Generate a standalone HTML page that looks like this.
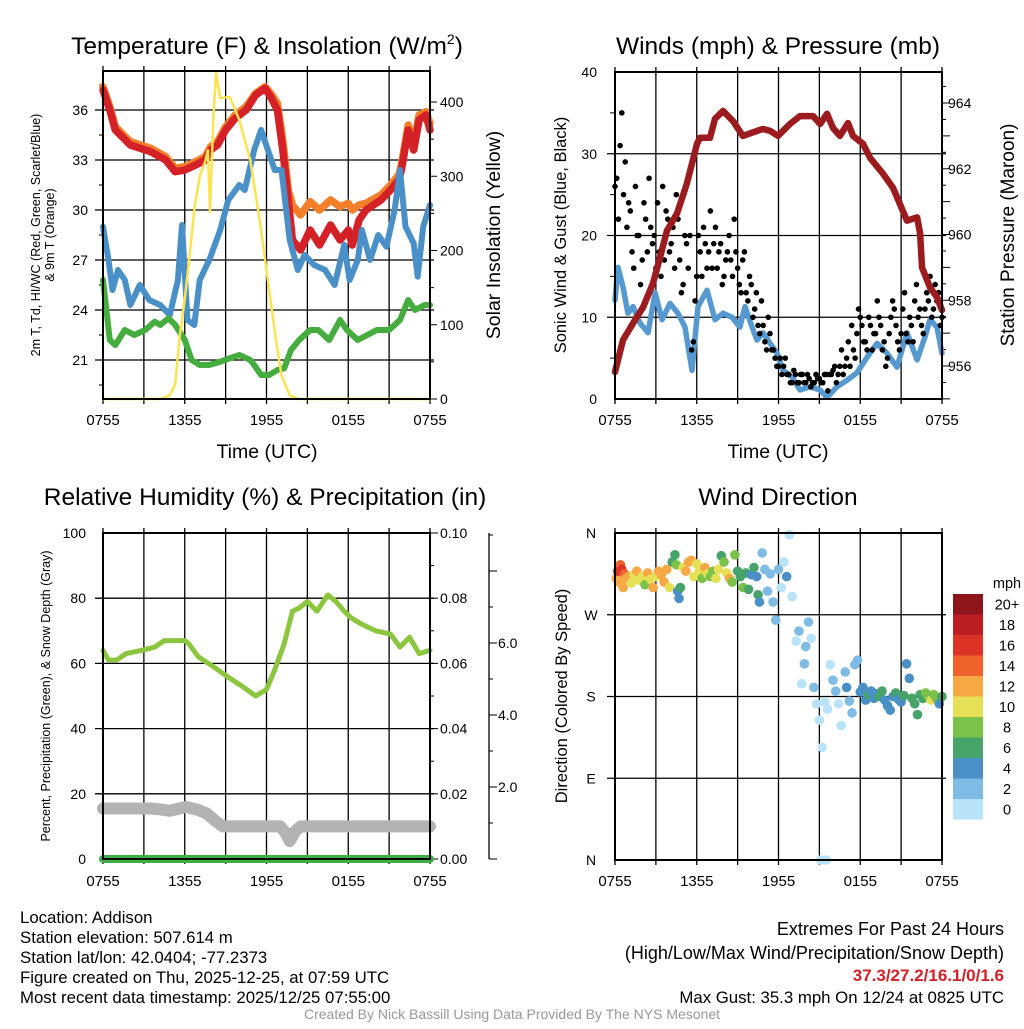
<!DOCTYPE html>
<html><head><meta charset="utf-8"><style>
body{margin:0;background:#fff}
svg text{font-family:"Liberation Sans",sans-serif;fill:#000}
</style></head><body>
<svg id="s" width="1024" height="1024" viewBox="0 0 1024 1024" xmlns="http://www.w3.org/2000/svg">
<rect width="1024" height="1024" fill="#fff"/>
</svg>
<script>
// ---------- DATA ----------
const xTickLabels=["0755","1355","1955","0155","0755"];
const tempTicks=[21,24,27,30,33,36];
const solarTicks=[0,100,200,300,400];
const windTicks=[0,10,20,30,40];
const presTicks=[956,958,960,962,964];
const rhTicks=[0,20,40,60,80,100];
const precipTicks=["0.00","0.02","0.04","0.06","0.08","0.10"];
const snowTicks=["2.0","4.0","6.0"];
const dirLabels=["N","W","S","E","N"];
const cbLabels=["20+","18","16","14","12","10","8","6","4","2","0"];
const cbColors=["#8e1519","#bb1d23","#dc3327","#f0622b","#f6a844","#e6e057","#7bc24a","#46a36a","#4a8fc6","#7ebce6","#b8e3f8"];

const redH=[0,0.5,0.9,2,3.5,4.6,5.3,6,6.8,7.5,7.9,8.4,9,9.7,10.5,11.2,11.9,12.3,12.8,13.2,13.6,13.9,14.5,15.2,15.9,16.7,17.4,18,18.3,18.8,19.3,20.4,21.1,21.7,21.9,22.4,22.8,23.2,23.7,24];
const redT=[37.2,36,34.8,33.9,33.5,33,32.3,32.4,32.7,33,33.6,33.9,34.8,35.5,36,36.9,37.3,36.8,36,33.6,30.6,28.2,27.6,28.8,27.9,29.1,28.2,28.8,27.9,29.4,30,30.6,31.2,31.8,32.4,34.8,33.6,35.4,35.7,34.8];
const orangeT=[37.4,36.2,35,34.1,33.7,33.2,32.5,32.6,32.9,33.2,33.8,34.1,35,35.7,36.2,37,37.4,37,36.4,34.2,31.2,30.3,29.7,30.5,30,30.6,30.2,30.4,30,30.3,30.4,30.9,31.5,32.1,32.7,35.1,34,35.7,35.9,35.2];
const blueH=[0,0.4,0.7,1.1,1.6,2,2.7,3.4,4.2,4.9,5.5,5.8,6.2,6.7,7.1,7.8,8.6,9.2,10,10.4,11.1,11.6,12.1,12.6,13.1,13.7,14.3,14.8,15.5,16.3,17,17.7,18.1,18.7,19,19.6,20.2,20.8,21.4,21.8,22.2,22.8,23.1,23.5,24];
const blueT=[29.0,27,25.2,26.4,25.8,24.3,25.5,24.6,24.3,23.7,25.8,29.1,23.4,23.1,25.8,27,28.8,30.6,31.5,31.2,33.6,34.8,33.6,32.4,32.4,28.2,26.4,27.3,26.7,26.4,25.5,27.9,25.8,27,28.8,27,28.5,27.8,30,32.4,29,28,26,29,30.3];
const greenH=[0,0.5,0.9,1.6,2.3,3.1,3.8,4.2,4.8,5.3,6,6.5,7.1,7.8,8.6,9.3,10,10.8,11.1,11.6,12.2,12.8,13.3,13.8,14.4,15.2,15.8,16.6,17.4,17.9,18.7,19.4,20.1,21,21.8,22.4,22.9,23.6,24];
const greenT=[25.8,22.2,21.9,22.8,22.5,22.8,23.3,23.1,23.5,23.1,22.2,21,20.7,20.7,20.9,21.1,21.3,21,20.7,20.1,20.1,20.4,20.5,21.6,22.2,22.8,22.8,22.2,23.4,22.8,22.2,22.5,22.8,22.8,23.4,24.6,24,24.3,24.3];
const solarH=[0,4.2,4.9,5.3,5.6,6,6.4,6.7,7.1,7.5,7.7,7.85,8.1,8.3,8.6,9.3,10,10.8,11.5,12.2,12.7,13.1,13.7,14.4,24];
const solarW=[0,0,5,20,80,135,200,255,300,320,335,252,380,440,405,407,376,322,241,147,79,32,5,0,0];

const presH=[0,0.59,1.32,2.06,2.79,3.3,3.82,4.55,5.28,6.02,6.24,6.97,7.34,7.93,8.66,9.39,10.42,10.86,11.38,11.96,12.84,13.58,14.53,15.05,15.56,16,16.51,17.1,17.47,18.2,18.72,19.67,20.4,21.43,22.17,22.39,22.53,23.12,23.63,24];
const presMb=[955.82,956.79,957.3,957.79,958.52,959.3,960.12,960.64,961.55,962.76,962.94,962.94,963.52,963.76,963.45,963,963.15,963.21,963.15,963,963.36,963.6,963.6,963.36,963.67,963.24,963,963.39,963,962.76,962.33,961.85,961.42,960.42,960.52,960.03,959,958.39,958.09,957.7];
const windH=[0,0.22,0.59,0.95,1.32,1.83,2.42,2.94,3.45,4.04,4.62,5.14,5.65,6.09,6.75,7.34,7.93,8.59,9.17,9.54,10.06,10.42,10.86,11.38,11.89,12.33,12.99,13.58,14.31,15.05,15.56,16.29,17.03,17.76,18.5,19.23,19.96,20.7,21.43,22.17,22.75,23.12,23.63,24];
const windMph=[12.1,16.1,13.7,10.5,11.3,9.3,8.1,13,9.7,11.7,10.5,8.8,3.5,11.3,13.3,9.7,10.5,10,8.8,11.3,8.8,7.2,8.1,6.8,5.6,3.5,2.7,1.1,1.5,1.1,0.2,1.5,2.3,3.2,5.1,6.8,5.6,3.9,8.1,4.8,7.6,9.7,8.8,5.6];
const gustA=[26,22,35,29,24,18,26,20,17,22,27,19,16,18,26,23,18,21,25,17,14,19,20,7,15,18,21,16,23,19,16,19,15,18,17,22,16,13,18,12,14,11,9,12,7,10,6,5,4,3,5,3,2,3,2,3,2,2.5,2,3,2.5,2,3,3,3.5,2,4,3,5,4,6,8,10,7,6,9,8,12,9,7,5,10,11,7,8,13,7,9,12,10,9,11,12,10,14,13,10];
const gustB=[27,31,25,21,23,16,20,14,24,18,21,20,24,15,17,22,19,16,22,13,20,16,6,12,20,15,19,18,16,21,18,14,17,20,15,18,14,17,13,15,10,13,8,9,6,8,6,4,5,4,3,2,3.5,2,3,2,3,1.5,2,2.5,2,3,1,3,4,3,6,4,7,9,5,11,9,7,10,6,8,10,6,4,8,12,9,6,11,8,10,7,14,11,8,13,15,11,12,9];

const rhH=[0,0.4,1,1.7,2.8,3.8,4.5,5.2,6,6.3,7,8.1,9.1,10.2,11.2,12,12.6,13.3,13.9,14.4,15,15.7,16.5,17.1,17.7,18.2,19,20,21.1,21.8,22.5,23.2,24];
const rhPct=[64,61,61,63,64,65,67,67,67,66,62,59,56,53,50,52,58,66,76,77,79,76,81,79,76,74,72,70,69,65,68,63,64];
const snowH=[0,3.5,4.2,4.9,6.1,7,7.6,8.3,8.8,13,13.4,13.7,14.1,14.5,24];
const snowPct=[15.5,15.5,15.2,14.8,16,15,14,11.5,10,10,8,5.5,8.5,10,10];
const precipH=[0,24];
const precipIn=[0,0];

const wdH=[0.1,0.2,0.3,0.4,0.5,0.6,0.7,0.8,1.0,1.2,1.4,1.6,1.8,2.0,2.2,2.4,2.6,2.8,3.0,3.2,3.4,3.6,3.8,4.0,4.2,4.4,4.5,4.6,4.7,4.8,5.0,5.2,5.4,5.6,5.8,6.0,6.2,6.4,6.6,6.8,7.0,7.2,7.4,7.6,7.8,8.0,8.2,8.4,8.6,8.8,9.0,9.2,9.4,9.6,9.8,10.0,10.2,10.4,10.5,10.6,10.8,11.0,11.2,11.4,11.6,11.8,12.0,12.2,12.4,12.6,12.8,13.0,13.3,13.5,13.7,13.9,14.0,14.2,14.4,14.6,14.8,15.0,15.1,15.2,15.4,15.5,15.6,15.8,16.0,16.2,16.4,16.6,16.9,17.0,17.2,17.4,17.6,17.8,18.0,18.2,18.4,18.6,18.8,19.0,19.2,19.4,19.6,19.8,20.0,20.2,20.4,20.6,20.8,21.0,21.2,21.4,21.6,21.8,22.0,22.2,22.4,22.6,22.8,23.0,23.2,23.4,23.6,23.8,24.0];
const wdDir=[310,318,306,325,320,300,315,310,312,305,314,318,308,312,303,316,309,300,312,318,314,306,320,300,328,336,325,296,288,300,322,318,328,330,312,326,318,310,322,315,312,318,310,320,335,328,316,310,306,336,318,312,300,316,298,314,322,312,292,284,338,320,296,315,284,264,320,300,328,312,358,290,241,252,194,216,235,262,244,190,172,154,0,124,174,0,166,215,198,186,172,148,207,190,175,162,215,220,185,190,176,182,186,178,183,180,186,176,170,165,180,184,177,174,181,216,200,178,172,160,182,178,184,180,176,182,178,172,180];
const wdSpd=[12,16,13,15,17,12,14,12,12,10,11,12,10,11,9,12,10,12,10,12,13,12,12,10,7,6,9,4,4,7,10,12,13,12,10,11,10,9,12,10,8,9,10,10,7,9,10,12,9,8,7,6,8,7,6,5,6,5,6,5,2,3,3,2,3,3,2,1,1,4,0,1,1,3,1,3,2,3,1,2,0,1,0,1,1,1,1,1,3,2,1,1,2,4,3,2,3,3,4,5,4,6,5,4,5,6,7,4,4,4,5,6,4,5,6,4,4,6,7,6,7,7,8,9,10,8,9,4,7];

// ---------- HELPERS ----------
const NS="http://www.w3.org/2000/svg";
const S=document.getElementById('s');
function mk(tag,attrs,parent){const e=document.createElementNS(NS,tag);for(const k in attrs)e.setAttribute(k,attrs[k]);(parent||S).appendChild(e);return e;}
function txt(x,y,str,size,anchor,name,extra){const t=mk('text',Object.assign({x:x,y:y,'font-size':size,'text-anchor':anchor||'middle'},extra||{}));t.textContent=str;


return t;}
function lin(d0,d1,r0,r1){return v=>r0+(v-d0)/(d1-d0)*(r1-r0);}
function pathFrom(xs,ys,fx,fy){return xs.map((h,i)=>(i?'L':'M')+fx(h).toFixed(1)+','+fy(ys[i]).toFixed(1)).join('');}
function line(d,color,w,name){const p=mk('path',{d:d,fill:'none',stroke:color,'stroke-width':w,'stroke-linejoin':'round','stroke-linecap':'round'});


return p;}
function grid(x0,x1,y0,y1,ys){
  const g=mk('g',{});
  
  
  for(let i=0;i<=8;i++){const x=x0+(x1-x0)*i/8;mk('line',{x1:x,x2:x,y1:y0-5,y2:y1+5,stroke:'#000','stroke-width':1.3},g);}
  ys.forEach(y=>mk('line',{x1:x0-8,x2:x1+4,y1:y,y2:y,stroke:'#000','stroke-width':1.3},g));
}
function box(x0,x1,y0,y1,name){const r=mk('rect',{x:x0,y:y0,width:x1-x0,height:y1-y0,fill:'none',stroke:'#000','stroke-width':2});

}
function xlabels(x0,x1,y){xTickLabels.forEach((l,i)=>txt(x0+(x1-x0)*i/4,y,l,15,'middle','x-tick-label'));}

// ---------- PANEL 1 ----------
{
const x0=103,x1=430,y0=71,y1=399;
const fx=lin(0,24,x0,x1), fy=lin(36,21,110,360), fs=lin(0,400,399,102);
grid(x0,x1,y0,y1,tempTicks.map(fy));
for(let v=0;v<=440;v+=50){mk('line',{x1:x1,x2:x1+(v%100?4:7),y1:fs(v),y2:fs(v),stroke:'#000','stroke-width':1});}
for(let v=19.5;v<=38;v+=1.5){mk('line',{x1:x0-4,x2:x0,y1:fy(v),y2:fy(v),stroke:'#000','stroke-width':1});}
line(pathFrom(redH,orangeT,fx,fy),'#f47f2a',7.5,'9m-temp-line');
line(pathFrom(redH,redT,fx,fy),'#d42027',7.5,'2m-temp-line');
line(pathFrom(blueH,blueT,fx,fy),'#4a90c8',6,'wind-chill-line');
line(pathFrom(greenH,greenT,fx,fy),'#44ad3e',6,'dewpoint-line');
line(pathFrom(solarH,solarW,fx,fs),'#fbe352',2.5,'solar-insolation-line');
box(x0,x1,y0,y1,'temperature-plot-frame');
tempTicks.forEach(v=>txt(88,fy(v)+5,String(v),14,'end','temp-tick-label'));
solarTicks.forEach(v=>txt(440,fs(v)+5,String(v),14,'start','solar-tick-label'));
xlabels(x0,x1,425);
const t=txt(267,54,'Temperature (F) & Insolation (W/m',24.5,'middle','temperature-panel-title');
const sp=mk('tspan',{'font-size':14,dy:-10},t);sp.textContent='2';
const sp2=mk('tspan',{dy:10},t);sp2.textContent=')';
txt(267,458,'Time (UTC)',19.5,'middle','x-axis-title');
txt(0,0,'2m T, Td, HI/WC (Red, Green, Scarlet/Blue)',12.5,'middle','temp-y-axis-title',{transform:'translate(40,235) rotate(-90)'});
txt(0,0,'& 9m T (Orange)',12.5,'middle','temp-y-axis-title-line2',{transform:'translate(54,235) rotate(-90)'});
txt(0,0,'Solar Insolation (Yellow)',19.5,'middle','solar-y-axis-title',{transform:'translate(500,235) rotate(-90)'});
}
// ---------- PANEL 2 ----------
{
const x0=615,x1=942,y0=72,y1=399;
const fx=lin(0,24,x0,x1), fy=lin(0,40,399,72), fp=lin(956,964,366,103);
grid(x0,x1,y0,y1,[10,20,30].map(fy));
for(let v=955;v<=965;v+=0.5){const y=fp(v);if(y>=y0&&y<=y1)mk('line',{x1:x1,x2:x1+(v%1?4:8),y1:y,y2:y,stroke:'#000','stroke-width':1});}
for(let v=5;v<40;v+=10){mk('line',{x1:x0-5,x2:x0,y1:fy(v),y2:fy(v),stroke:'#000','stroke-width':1});}
line(pathFrom(windH,windMph,fx,fy),'#5599d0',5.5,'sonic-wind-line');
const g=mk('g',{fill:'#000'});


gustA.forEach((v,i)=>{const c=mk('circle',{cx:fx(i*0.25),cy:fy(v),r:2.8},g);

});
gustB.forEach((v,i)=>{const c=mk('circle',{cx:fx(i*0.25+0.125),cy:fy(v),r:2.8},g);

});
line(pathFrom(presH,presMb,fx,fp),'#9b1b1e',6.5,'pressure-line');
box(x0,x1,y0,y1,'winds-plot-frame');
windTicks.forEach(v=>txt(597,fy(v)+5,String(v),14,'end','wind-tick-label'));
presTicks.forEach(v=>txt(948,fp(v)+5,String(v),14,'start','pressure-tick-label'));
xlabels(x0,x1,425);
txt(778,54,'Winds (mph) & Pressure (mb)',24.5,'middle','winds-panel-title');
txt(778,458,'Time (UTC)',19.5,'middle','x-axis-title');
txt(0,0,'Sonic Wind & Gust (Blue, Black)',16.5,'middle','wind-y-axis-title',{transform:'translate(566,235) rotate(-90)'});
txt(0,0,'Station Pressure (Maroon)',19,'middle','pressure-y-axis-title',{transform:'translate(1014,235) rotate(-90)'});
}
// ---------- PANEL 3 ----------
{
const x0=103,x1=430,y0=533,y1=859;
const fx=lin(0,24,x0,x1), fy=lin(0,100,859,533), fpr=lin(0,0.1,859,533), fsn=lin(0,2,859,787);
grid(x0,x1,y0,y1,[20,40,60,80].map(fy));
for(let v=0;v<=0.1001;v+=0.01){mk('line',{x1:x1,x2:x1+(Math.round(v*100)%2?4:8),y1:fpr(v),y2:fpr(v),stroke:'#000','stroke-width':1});}
mk('line',{x1:489,x2:489,y1:533,y2:859,stroke:'#000','stroke-width':1.3});
for(let v=0;v<=9;v+=1){const y=fsn(v);if(y>=533)mk('line',{x1:489,x2:489+(v%2?4:8),y1:y,y2:y,stroke:'#000','stroke-width':1});}
line(pathFrom(snowH,snowPct,fx,fy),'#b3b3b3',12,'snow-depth-line');
line(pathFrom(rhH,rhPct,fx,fy),'#8cc63f',5,'relative-humidity-line');
line(pathFrom(precipH,precipIn,fx,fpr),'#3fae49',8,'precipitation-line');
box(x0,x1,y0,y1,'humidity-plot-frame');
rhTicks.forEach(v=>txt(86,fy(v)+5,String(v),14,'end','rh-tick-label'));
precipTicks.forEach(v=>txt(440,fpr(+v)+5,v,14,'start','precip-tick-label'));
snowTicks.forEach(v=>txt(498,fsn(+v)+5,v,14,'start','snow-tick-label'));
xlabels(x0,x1,886);
txt(265,505,'Relative Humidity (%) & Precipitation (in)',24.5,'middle','humidity-panel-title');
txt(0,0,'Percent, Precipitation (Green), & Snow Depth (Gray)',12.5,'middle','rh-y-axis-title',{transform:'translate(50,696) rotate(-90)'});
}
// ---------- PANEL 4 ----------
{
const x0=615,x1=942,y0=533,y1=860;
const fx=lin(0,24,x0,x1), fy=lin(0,360,860,533);
grid(x0,x1,y0,y1,[90,180,270].map(fy));
const g=mk('g',{});


wdH.forEach((h,i)=>{const b=Math.min(10,Math.floor(wdSpd[i]/2));const c=mk('circle',{cx:fx(h),cy:fy(wdDir[i]),r:4.8,fill:cbColors[10-b]},g);

});
box(x0,x1,y0,y1,'wind-direction-plot-frame');
dirLabels.forEach((l,i)=>txt(591,fy(360-i*90)+5,l,14,'middle','direction-tick-label'));
xlabels(x0,x1,886);
txt(778,505,'Wind Direction',24.5,'middle','wind-direction-panel-title');
txt(0,0,'Direction (Colored By Speed)',16.5,'middle','direction-y-axis-title',{transform:'translate(567,696) rotate(-90)'});
const cb=mk('g',{});


cbColors.forEach((c,i)=>{const r=mk('rect',{x:953,y:594+i*20.5,width:30,height:20.6,fill:c},cb);


txt(1007,594+i*20.5+15.5,cbLabels[i],14.5,'middle','colorbar-label');});
txt(1007,588,'mph',14.5,'middle','colorbar-title');
}
// ---------- FOOTER ----------
["Location: Addison","Station elevation: 507.614 m","Station lat/lon: 42.0404; -77.2373","Figure created on Thu, 2025-12-25, at 07:59 UTC","Most recent data timestamp: 2025/12/25 07:55:00"].forEach((l,i)=>txt(20,923+i*20,l,16.8,'start','station-info-line'));
txt(1004,935,'Extremes For Past 24 Hours',18,'end','extremes-heading');
txt(1004,959,'(High/Low/Max Wind/Precipitation/Snow Depth)',18,'end','extremes-subheading');
txt(1004,981,'37.3/27.2/16.1/0/1.6',17,'end','extremes-values',{'font-weight':'bold',style:'fill:#d42027'});
txt(1004,1003,'Max Gust: 35.3 mph On 12/24 at 0825 UTC',16.8,'end','max-gust-text');
txt(512,1019,'Created By Nick Bassill Using Data Provided By The NYS Mesonet',14,'middle','credit-text',{style:'fill:#999'});
</script>
</body></html>
